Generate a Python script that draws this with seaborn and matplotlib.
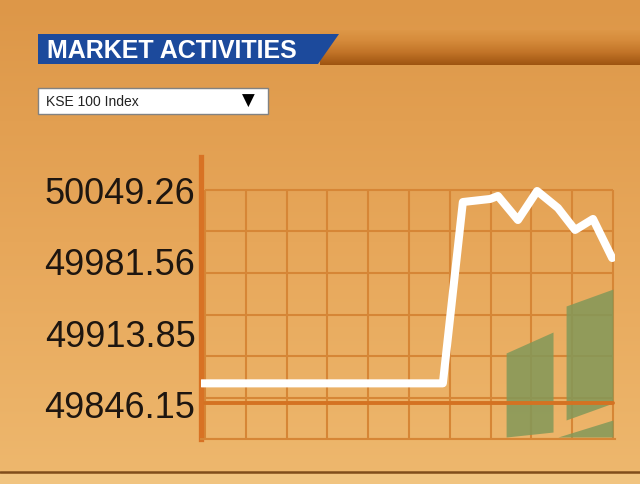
"""
KSE 100 market activities widget: index line with volume blocks.
"""
import numpy as np
import matplotlib
matplotlib.use("Agg")
import matplotlib.pyplot as plt
from matplotlib.patches import Polygon, Rectangle
import seaborn as sns

W, H = 640, 484

# ─── Data ─────────────────────────────────────────────────────────
title_text = "MARKET ACTIVITIES"
index_name = "KSE 100 Index"

tick_values = [50049.26, 49981.56, 49913.85, 49846.15]
tick_labels = ["50049.26", "49981.56", "49913.85", "49846.15"]

# index line (x in grid-cell units)
line_t   = [-0.08, 5.83, 6.32, 6.99, 7.18, 7.67, 8.14, 8.65, 9.07, 9.51, 9.98]
line_idx = [49866.6, 49866.6, 50037.9, 50040.8, 50043.6, 50020.9,
            50048.3, 50032.3, 50011.5, 50021.9, 49985.0]

prev_close = 49848.0

# volume blocks (caught mid-animation, slanted tops)
vol_left   = [7.38, 8.85, 8.65]
vol_right  = [8.53, 10.0, 10.0]
vol_top_l  = [49895.3, 49939.7, 49815.9]
vol_top_r  = [49915.1, 49955.7, 49832.0]
vol_base_l = [49815.9, 49832.0, 49815.9]
vol_base_r = [49820.6, 49848.0, 49815.9]

# ─── Palette ──────────────────────────────────────────────────────
def rgb(r, g, b):
    return (r / 255, g / 255, b / 255)

GRID      = rgb(214, 134, 54)
AXIS      = rgb(216, 114, 36)
PREV      = rgb(212, 114, 34)
VOL       = rgb(130, 152, 89)
BLUE      = rgb(28, 74, 156)
TEXT      = rgb(30, 22, 16)
DARK_LINE = rgb(128, 78, 28)

sns.set_style("white")
plt.rcParams["font.family"] = ["Liberation Sans", "DejaVu Sans"]


def fx(x):
    return x / W


def fy(y):
    return 1 - y / H


def vgrad(stops, n):
    pos = [s[0] for s in stops]
    cols = np.array([s[1] for s in stops], dtype=float) / 255
    t = np.linspace(0, 1, n)
    img = np.stack([np.interp(t, pos, cols[:, c]) for c in range(3)], axis=1)
    return img[:, None, :]


fig = plt.figure(figsize=(W / 100, H / 100), dpi=100)

# background gradient
bg = fig.add_axes([0, 0, 1, 1])
bg.imshow(vgrad([(0, (221, 151, 72)), (0.5, (231, 167, 90)), (1, (238, 184, 110))], 484),
          extent=(0, W, H, 0), aspect="auto")
bg.add_patch(Rectangle((0, 474), W, 10, color=rgb(241, 196, 128), lw=0))
bg.plot([0, W], [472, 472], color=DARK_LINE, lw=1.8)
bg.set_xlim(0, W)
bg.set_ylim(H, 0)
bg.axis("off")

# brown header bar (fades in from the background colour)
bar_ax = fig.add_axes([fx(320), fy(65), fx(320), (65 - 30) / H])
bar_ax.imshow(vgrad([(0, (222, 152, 72)), (0.3, (214, 140, 60)), (0.65, (194, 116, 40)),
                     (1, (158, 84, 16))], 70),
              extent=(0, 1, 1, 0), aspect="auto")
bar_ax.axis("off")

# blue title tab
fig.add_artist(Polygon([(fx(38), fy(34)), (fx(339), fy(34)), (fx(318), fy(64)), (fx(38), fy(64))],
                       closed=True, facecolor=BLUE, edgecolor="none", transform=fig.transFigure))
fig.text(fx(47), fy(57.5), title_text, color="white", fontsize=18, fontweight="bold",
         va="baseline", ha="left")

# dropdown
fig.add_artist(Rectangle((fx(38), fy(114)), (268 - 38) / W, (114 - 88) / H,
                         facecolor="white", edgecolor=rgb(130, 130, 130), lw=1,
                         transform=fig.transFigure))
fig.text(fx(46), fy(106.5), index_name, color="#222222", fontsize=10, va="baseline", ha="left")
fig.text(fx(248), fy(101), "\u25bc", color="black", fontsize=12, va="center", ha="center",
         family="DejaVu Sans")

# ─── Chart ────────────────────────────────────────────────────────
k = (tick_values[0] - tick_values[-1]) / (405 - 190)  # value per pixel
y_top = tick_values[0] + (190 - 157) * k
y_bot = tick_values[0] - (439 - 190) * k
x_lo = (201 - 205) / 40.8
x_hi = (615 - 205) / 40.8

ax = fig.add_axes([fx(201), fy(439), (615 - 201) / W, (439 - 157) / H])
ax.set_facecolor("none")
ax.set_xlim(x_lo, x_hi)
ax.set_ylim(y_bot, y_top)

hgrid = np.linspace(tick_values[0], y_bot, 7)
ax.hlines(hgrid, 0, 10, color=GRID, lw=1.5, zorder=1)
ax.vlines(np.arange(11), y_bot, hgrid[0], color=GRID, lw=1.5, zorder=1)

for l, r, tl, tr, bl, br in zip(vol_left, vol_right, vol_top_l, vol_top_r, vol_base_l, vol_base_r):
    ax.fill_between([l, r], [bl, br], [tl, tr], color=VOL, alpha=0.85, lw=0, zorder=2)

ax.axhline(prev_close, xmin=(0 - x_lo) / (x_hi - x_lo), xmax=(10 - x_lo) / (x_hi - x_lo),
           color=PREV, lw=2.8, zorder=3)

sns.lineplot(x=line_t, y=line_idx, ax=ax, color="white", lw=5.8, sort=False, zorder=4)

ax.set_yticks(tick_values)
ax.set_yticklabels(tick_labels, fontsize=26, color=TEXT)
ax.set_xticks([])
ax.tick_params(axis="y", length=0, pad=4)
ax.set_xlabel("")
ax.set_ylabel("")
for side in ("top", "right"):
    ax.spines[side].set_visible(False)
ax.spines["left"].set_color(AXIS)
ax.spines["left"].set_linewidth(3.8)
ax.spines["bottom"].set_color(GRID)
ax.spines["bottom"].set_linewidth(1.5)

fig.savefig("out.png", dpi=100)
plt.close(fig)
